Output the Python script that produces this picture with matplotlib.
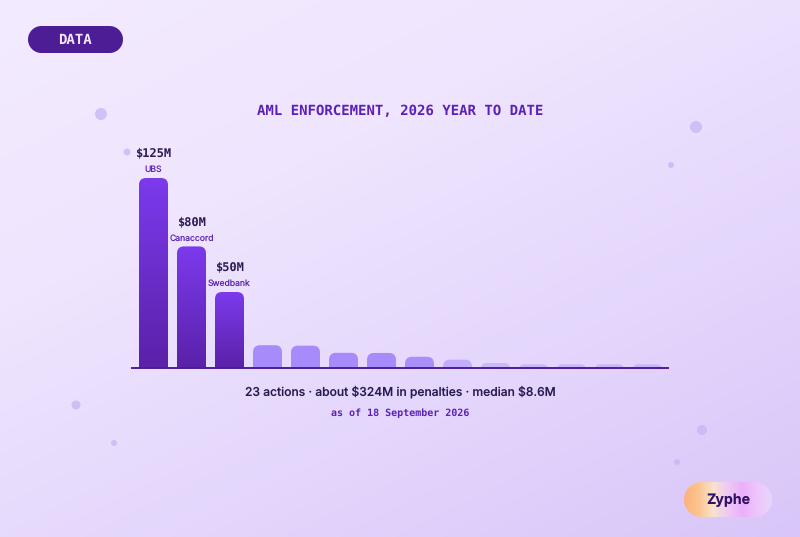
import numpy as np
import matplotlib
matplotlib.use("Agg")
import matplotlib.pyplot as plt
from matplotlib.colors import LinearSegmentedColormap
from matplotlib.patches import Circle, FancyBboxPatch, Polygon

plt.rcParams["text.hinting"] = "no_hinting"
plt.rcParams["text.hinting_factor"] = 1

W, H = 800, 537

names = ["UBS", "Canaccord", "Swedbank"]
penalties = [125, 80, 50, 15, 14.7, 10, 9.9, 7.4, 5.5, 3.3, 2.4, 2.4, 2.4, 2.4]
value_labels = [r"\$125M", r"\$80M", r"\$50M"]
fade = [1, 1, 1, 1, 1, 1, 1, 0.95, 0.55, 0.4, 0.4, 0.4, 0.4, 0.4]

title = "AML ENFORCEMENT, 2026 YEAR TO DATE"
summary = r"23 actions · about \$324M in penalties · median \$8.6M"
as_of = "as of 18 September 2026"

dots = [(101, 114, 6), (127, 152, 3.5), (696, 127, 6), (671, 165, 3),
        (76, 405, 4.5), (114, 443, 3), (702, 430, 5), (677, 462, 3)]

MONO = "DejaVu Sans Mono"
SANS = "Inter"
DARK = "#2a1a52"
PURPLE = "#5b21b6"
PX_PER_M = 1.52
PITCH = 38


def pill(ax, x0, y0, x1, y1, **kw):
    # true half circle ends, the round boxstyle comes out too square
    r = (y1 - y0) / 2
    a = np.linspace(-np.pi / 2, np.pi / 2, 40)
    right_end = np.c_[x1 - r + r * np.cos(a), (y0 + y1) / 2 + r * np.sin(a)]
    left_end = np.c_[x0 + r - r * np.cos(a), (y0 + y1) / 2 - r * np.sin(a)]
    p = Polygon(np.r_[right_end, left_end], closed=True, linewidth=0, **kw)
    ax.add_patch(p)
    return p


fig = plt.figure(figsize=(W / 100, H / 100), dpi=100)

# page layer, coordinates in pixels from the top left
page = fig.add_axes([0, 0, 1, 1])
page.set_xlim(0, W)
page.set_ylim(H, 0)
page.axis("off")

yy, xx = np.mgrid[0:1:120j, 0:1:180j]
t = (xx * 0.55 + yy * 0.75) / 1.3
bg = LinearSegmentedColormap.from_list("bg", ["#f3ebff", "#efe5fe", "#e4d6fc", "#d9c6f9"])
page.imshow(bg(t), extent=(0, W, H, 0), aspect="auto", zorder=0, interpolation="bilinear")
page.set_xlim(0, W)
page.set_ylim(H, 0)

for x, y, r in dots:
    page.add_patch(Circle((x, y), r, color="#c4b2f5", alpha=0.7, linewidth=0, zorder=1))

pill(page, 28, 26, 123, 53, color="#4c1d95", zorder=2)
page.text(75, 40, "DATA", family=MONO, weight="bold", fontsize=9.8, color="#f3e8ff",
          ha="center", va="center", zorder=3)

logo_cmap = LinearSegmentedColormap.from_list(
    "logo", ["#fdb27a", "#fdc48f", "#f8e3cf", "#efc8f5", "#e9b0fb", "#eec6fb", "#e6d6fb"])
logo_img = page.imshow(np.linspace(0, 1, 256)[None, :], cmap=logo_cmap, extent=(684, 772, 517, 482),
                       aspect="auto", zorder=2)
logo_img.set_clip_path(pill(page, 684, 482, 772, 517, facecolor="none"))
page.set_xlim(0, W)
page.set_ylim(H, 0)
page.text(728, 500, "Zyphe", family=SANS, weight="bold", fontsize=10.2, color="#2e1065",
          ha="center", va="center", zorder=3)

page.text(400, 111, title, family=MONO, weight="bold", fontsize=9.9, color=PURPLE,
          ha="center", va="center")
page.text(400, 392, summary, family=SANS, fontsize=8.7, weight="medium", color=DARK,
          ha="center", va="center")
page.text(400, 413, as_of, family=MONO, weight="bold", fontsize=7.4, color=PURPLE,
          ha="center", va="center")

# chart layer: one x unit is one bar slot, y is in $M
left, right, base, top = 132, 668, 368, 130
ax = fig.add_axes([left / W, 1 - base / H, (right - left) / W, (base - top) / H])
ax.patch.set_alpha(0)
ax.set_xticks([])
ax.set_yticks([])
for side in ["top", "left", "right"]:
    ax.spines[side].set_visible(False)
ax.spines["bottom"].set_color("#4c1d95")
ax.spines["bottom"].set_linewidth(1.4)
ax.spines["bottom"].set_zorder(5)

bar_w = 29 / PITCH
grad = LinearSegmentedColormap.from_list("bar", ["#7c3aed", "#5b21a8"])
aspect = PITCH / PX_PER_M

for i, v in enumerate(penalties):
    h_px = v * PX_PER_M
    r_px = min(7, (h_px + 7) / 2)
    below = 7 / PX_PER_M
    r = r_px / PITCH
    box = FancyBboxPatch((i - bar_w / 2 + r, -below + r_px / PX_PER_M),
                         bar_w - 2 * r, v + below - 2 * r_px / PX_PER_M,
                         boxstyle=f"round,pad={r},rounding_size={r}", mutation_aspect=aspect,
                         linewidth=0, zorder=2)
    if i < len(names):
        box.set_facecolor("none")
        ax.add_patch(box)
        img = ax.imshow(np.linspace(0, 1, 128)[:, None], cmap=grad, aspect="auto", zorder=2,
                        extent=(i - bar_w / 2, i + bar_w / 2, 0, v), origin="upper")
        img.set_clip_path(box)
        ax.annotate(names[i], (i, v), xytext=(0, 4), textcoords="offset pixels", family=SANS,
                    fontsize=6.2, color=PURPLE, ha="center", va="bottom")
        ax.annotate(value_labels[i], (i, v), xytext=(0, 19), textcoords="offset pixels", family=MONO,
                    fontsize=8.4, weight="bold", color=DARK, ha="center", va="bottom")
    else:
        box.set_facecolor("#a78bfa")
        box.set_alpha(fade[i])
        ax.add_patch(box)

ax.set_xlim((left - 153.5) / PITCH, (right - 153.5) / PITCH)
ax.set_ylim(0, (base - top) / PX_PER_M)

fig.savefig("out.png", dpi=100)
